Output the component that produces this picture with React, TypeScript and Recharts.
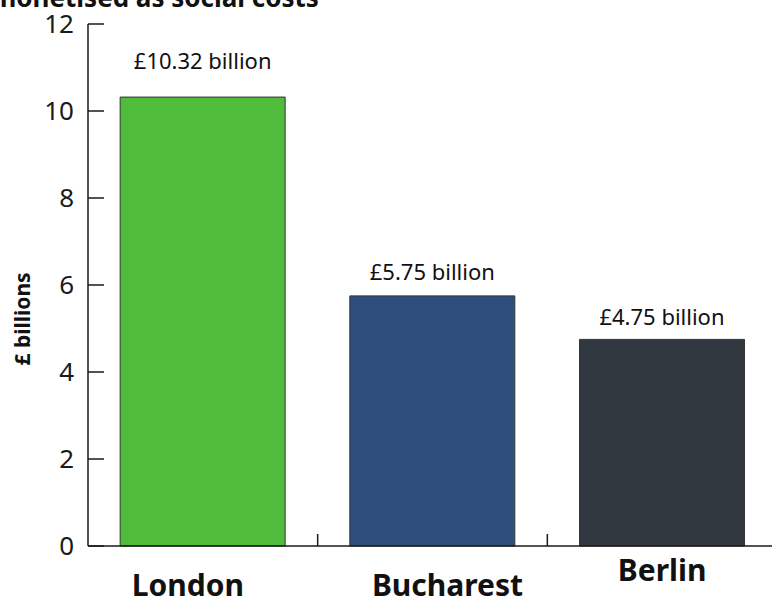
import { BarChart, Bar, XAxis, YAxis, Cell, LabelList } from "recharts";

const cities = ["London", "Bucharest", "Berlin"];
const costs = [10.32, 5.75, 4.75];
const costLabels = ["£10.32 billion", "£5.75 billion", "£4.75 billion"];
const yTicks = [0, 2, 4, 6, 8, 10, 12];

const data = cities.map((city, i) => ({ city, cost: costs[i], label: costLabels[i] }));

const barColours = ["#4fbd3b", "#2e4f7e", "#31373f"];
const labelLift = [28, 16, 14];
const cityLift = [0, 0, 15];
const cityShift = [-15, 15, 0];

const W = 777;
const H = 599;
const AXIS_X = 88;
const FONT = "'Noto Sans', 'Open Sans', sans-serif";
const halfBand = (W - AXIS_X) / cities.length / 2;

function YTick(props: any) {
  const { x, y, payload } = props;
  return (
    <g>
      <line x1={AXIS_X} x2={AXIS_X + 16} y1={y} y2={y} stroke="#1a1a1a" strokeWidth={1.5} />
      <text x={x} y={y} dy="0.36em" textAnchor="end" fontSize={26} fill="#1a1a1a" fontFamily={FONT}>
        {payload.value}
      </text>
    </g>
  );
}

function XTick(props: any) {
  const { x, y, payload, index } = props;
  return (
    <g>
      {index < cities.length - 1 && (
        <line x1={x + halfBand} x2={x + halfBand} y1={y} y2={y - 12} stroke="#1a1a1a" strokeWidth={1.5} />
      )}
      <text
        x={x + cityShift[index]}
        y={y + 50 - cityLift[index]}
        textAnchor="middle"
        fontSize={30}
        fontWeight={700}
        fill="#111"
        fontFamily={FONT}
      >
        {payload.value}
      </text>
    </g>
  );
}

function ValueLabel(props: any) {
  const { x, y, width, value, index } = props;
  return (
    <text x={x + width / 2} y={y - labelLift[index]} textAnchor="middle" fontSize={22} fill="#111" fontFamily={FONT}>
      {value}
    </text>
  );
}

export default function App() {
  return (
    <div style={{ position: "absolute", left: 0, top: 0, width: 772, height: 599, overflow: "hidden", background: "#fff", fontFamily: FONT }}>
      <svg width={772} height={40} style={{ position: "absolute", left: 0, top: 0 }}>
        <text x={-9} y={7} fontSize={26} fontWeight={700} fill="#111" fontFamily={FONT}>
          monetised as social costs
        </text>
      </svg>
      <svg width={40} height={599} style={{ position: "absolute", left: 0, top: 0 }}>
        <text x={22} y={319} transform="rotate(-90 22 319)" dy="0.36em" textAnchor="middle" fontSize={21} fontWeight={700} fill="#111" fontFamily={FONT}>
          £ billions
        </text>
      </svg>
      <div style={{ position: "absolute", left: 0, top: 0 }}>
        <BarChart width={W} height={H} data={data} margin={{ top: 24, right: 0, bottom: 0, left: 0 }} barCategoryGap="14%">
          <XAxis
            dataKey="city"
            height={53}
            tickSize={0}
            tickMargin={0}
            tickLine={false}
            axisLine={{ stroke: "#1a1a1a", strokeWidth: 1.5 }}
            tick={<XTick />}
            interval={0}
          />
          <YAxis
            width={AXIS_X}
            domain={[0, 12]}
            ticks={yTicks}
            tickSize={0}
            tickMargin={14}
            tickLine={false}
            axisLine={{ stroke: "#1a1a1a", strokeWidth: 1.5 }}
            tick={<YTick />}
          />
          <Bar dataKey="cost" stroke="#333" strokeWidth={1} isAnimationActive={false}>
            {data.map((d, i) => (
              <Cell key={d.city} fill={barColours[i]} />
            ))}
            <LabelList dataKey="label" content={<ValueLabel />} />
          </Bar>
        </BarChart>
      </div>
    </div>
  );
}
